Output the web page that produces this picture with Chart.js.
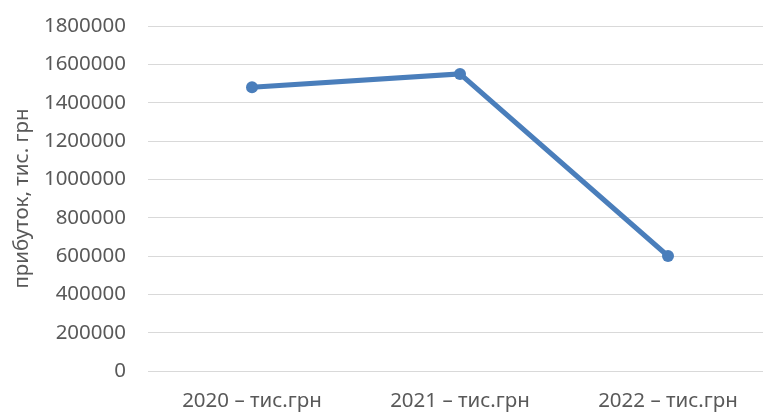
<!DOCTYPE html>
<html>
<head>
<meta charset="utf-8">
<script src="https://cdn.jsdelivr.net/npm/chart.js@4/dist/chart.umd.min.js"></script>
<style>
  html, body { margin: 0; padding: 0; background: #fff; overflow: hidden; }
  #wrap { width: 780px; height: 412px; }
</style>
</head>
<body>
<div id="wrap"><canvas id="profit" width="780" height="412"></canvas></div>
<script>
const years = ["2020 – тис.грн", "2021 – тис.грн", "2022 – тис.грн"];
const profit = [1480000, 1550000, 600000];
const yTicks = [0, 200000, 400000, 600000, 800000, 1000000, 1200000, 1400000, 1600000, 1800000];

const lineBlue = "#4a7ebb";
const textGrey = "#595959";
const font = { family: "'Noto Sans', sans-serif", size: 20.5 };

new Chart(document.getElementById("profit"), {
  type: "line",
  data: {
    labels: years,
    datasets: [{
      data: profit,
      borderColor: lineBlue,
      backgroundColor: lineBlue,
      borderWidth: 5,
      pointRadius: 6,
      pointBorderWidth: 0,
      tension: 0,
      fill: false
    }]
  },
  options: {
    responsive: false,
    animation: false,
    layout: { padding: { top: 26, right: 8, left: 0, bottom: 0 } },
    plugins: { legend: { display: false }, tooltip: { enabled: false } },
    scales: {
      x: {
        offset: true,
        grid: { display: false, drawTicks: false },
        border: { display: false },
        ticks: { color: textGrey, font, padding: 18, maxRotation: 0 },
        afterFit: (scale) => { scale.height = 41; }
      },
      y: {
        min: 0,
        max: 1800000,
        afterBuildTicks: (scale) => { scale.ticks = yTicks.map(v => ({ value: v })); },
        grid: { color: "#d9d9d9", lineWidth: 1, drawTicks: false },
        border: { display: false },
        ticks: { color: textGrey, font, padding: 22, callback: (v) => String(v) },
        title: {
          display: true,
          text: "прибуток, тис. грн",
          color: textGrey,
          font,
          padding: { top: 10 }
        },
        afterFit: (scale) => {
          scale.width = 148;
          // let the top/bottom labels hang over the padding instead of shrinking the plot
          scale.paddingTop = 0;
          scale.paddingBottom = 0;
        }
      }
    }
  }
});
</script>
</body>
</html>
